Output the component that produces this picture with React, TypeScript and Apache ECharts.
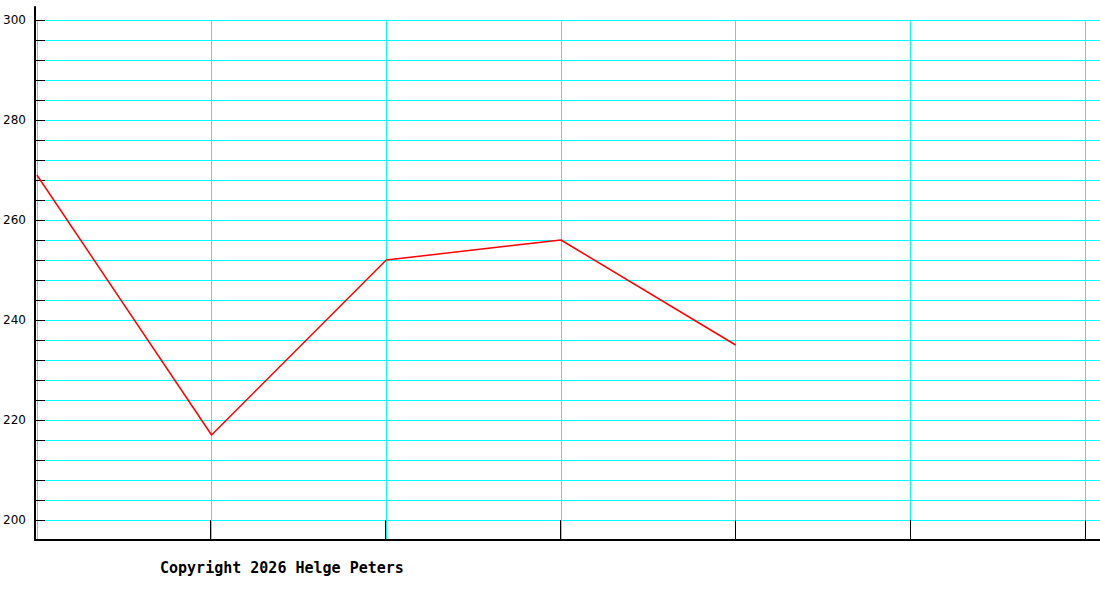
import { useRef, useEffect } from 'react';
import * as echarts from 'echarts';

// one slot per vertical grid line; only the first five carry a value
const slots = [0, 1, 2, 3, 4, 5, 6];
const values = [269, 217, 252, 256, 235];

const yMin = 196;
const yMax = 300;
const yStep = 4;
const yLabelStep = 20;
const xMax = 6.0857; // the grid runs a bit past the last slot line

const copyright = 'Copyright 2026 Helge Peters';

const CYAN = '#00ffff';
const BLACK = '#000000';

export default function App() {
  const chartRef = useRef<HTMLDivElement>(null);

  useEffect(() => {
    let chart: echarts.ECharts | undefined;
    if (chartRef.current) {
      chart = echarts.init(chartRef.current, undefined, { renderer: 'svg' });

      const dataGrid = { left: 35, right: 0, top: 20, bottom: 60 };

      chart.setOption({
        animation: false,
        backgroundColor: '#ffffff',
        grid: [
          dataGrid,
          { ...dataGrid },
          // frame: axis lines reach a little above the top grid line
          { left: 35, right: 0, top: 7, bottom: 60 },
        ],
        xAxis: [
          {
            type: 'value',
            gridIndex: 0,
            min: slots[0],
            max: xMax,
            interval: 1,
            axisLine: { show: false },
            axisTick: { show: false },
            axisLabel: { show: false },
            splitLine: {
              show: true,
              showMaxLine: false,
              lineStyle: { color: CYAN, width: 1 },
            },
          },
          {
            type: 'value',
            gridIndex: 1,
            z: 3,
            min: slots[0],
            max: xMax,
            interval: 1,
            axisLine: { show: false },
            axisTick: {
              show: true,
              inside: true,
              length: 20,
              lineStyle: { color: BLACK, width: 1 },
            },
            axisLabel: { show: false },
            splitLine: { show: false },
          },
          {
            type: 'value',
            gridIndex: 2,
            z: 4,
            min: 0,
            max: 1,
            axisLine: { show: true, onZero: false, lineStyle: { color: BLACK, width: 2 } },
            axisTick: { show: false },
            axisLabel: { show: false },
            splitLine: { show: false },
          },
        ],
        yAxis: [
          {
            type: 'value',
            gridIndex: 0,
            min: yMin,
            max: yMax,
            interval: yStep,
            axisLine: { show: false },
            axisTick: { show: false },
            axisLabel: {
              show: true,
              margin: 11,
              color: BLACK,
              fontFamily: 'DejaVu Sans',
              fontSize: 12,
              formatter: (v: number) => (v % yLabelStep === 0 ? String(v) : ''),
            },
            splitLine: {
              show: true,
              showMinLine: false,
              lineStyle: { color: CYAN, width: 1 },
            },
          },
          {
            type: 'value',
            gridIndex: 1,
            z: 3,
            min: yMin,
            max: yMax,
            interval: yStep,
            axisLine: { show: false },
            axisTick: {
              show: true,
              inside: true,
              length: 10,
              lineStyle: { color: BLACK, width: 1 },
            },
            axisLabel: { show: false },
            splitLine: { show: false },
          },
          {
            type: 'value',
            gridIndex: 2,
            z: 4,
            min: 0,
            max: 1,
            axisLine: { show: true, onZero: false, lineStyle: { color: BLACK, width: 2 } },
            axisTick: { show: false },
            axisLabel: { show: false },
            splitLine: { show: false },
          },
        ],
        graphic: [
          {
            type: 'text',
            left: 160,
            top: 560,
            style: {
              text: copyright,
              fill: BLACK,
              fontFamily: 'DejaVu Sans Mono',
              fontSize: 15,
              fontWeight: 'bold',
            },
          },
        ],
        series: [
          {
            type: 'line',
            xAxisIndex: 0,
            yAxisIndex: 0,
            z: 5,
            showSymbol: false,
            lineStyle: { color: '#ff0000', width: 1.5 },
            data: values.map((v, i) => [slots[i], v]),
          },
        ],
      });
    }

    return () => {
      chart?.dispose();
    };
  }, []);

  return (
    <div
      ref={chartRef}
      style={{ position: 'fixed', left: 0, top: 0, width: 1100, height: 600 }}
    />
  );
}
